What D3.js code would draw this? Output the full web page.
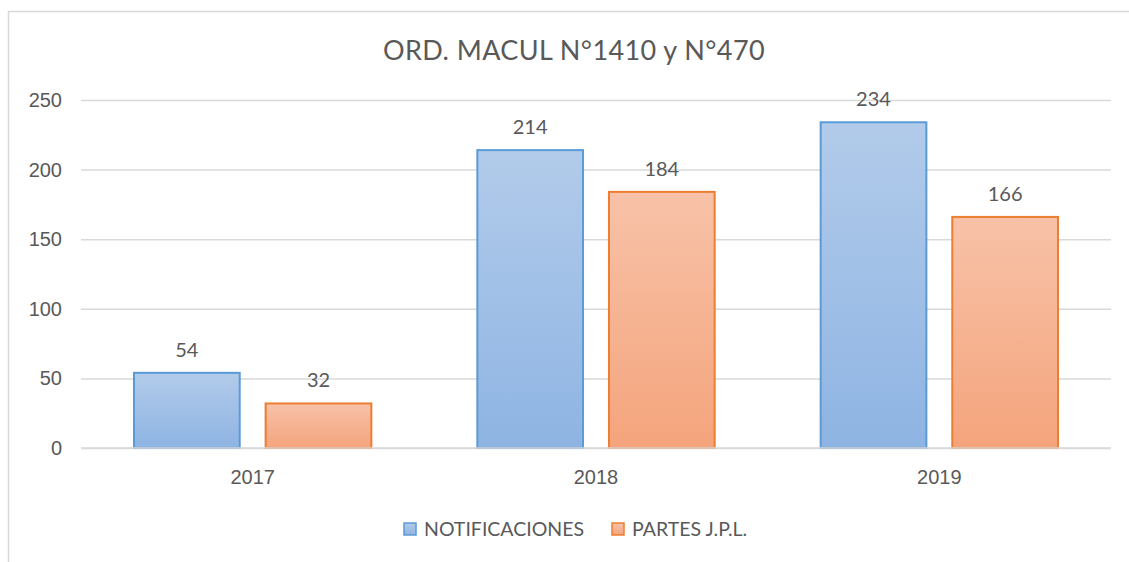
<!DOCTYPE html>
<html>
<head>
<meta charset="utf-8">
<script src="https://cdn.jsdelivr.net/npm/d3@7"></script>
<style>
  body { margin: 0; background: #fff; }
  svg { display: block; font-family: Lato, "Open Sans", sans-serif; }
  .tick text { fill: #595959; font-size: 20px; }
</style>
</head>
<body>
<svg id="chart" width="1129" height="562"></svg>
<script>
/* chart values */
const years = ["2017", "2018", "2019"];
const seriesNames = ["NOTIFICACIONES", "PARTES J.P.L."];
const notificaciones = [54, 214, 234];
const partes = [32, 184, 166];
const yTicks = [0, 50, 100, 150, 200, 250];

const colors = [
  { id: "gBlue", top: "#b2cbea", bottom: "#8eb4e3", stroke: "#5b9bd5" },
  { id: "gOrange", top: "#f8c2a8", bottom: "#f4a47c", stroke: "#ed7d31" }
];

const svg = d3.select("#chart");
const plotL = 81, plotR = 1111, plotT = 100, plotB = 448;

/* chart frame */
svg.append("rect")
  .attr("x", 8.5).attr("y", 11.5)
  .attr("width", 1140).attr("height", 580)
  .attr("fill", "#fff").attr("stroke", "#d9d9d9").attr("stroke-width", 1.5);

const defs = svg.append("defs");
colors.forEach(c => {
  const g = defs.append("linearGradient")
    .attr("id", c.id).attr("x1", 0).attr("y1", 0).attr("x2", 0).attr("y2", 1);
  g.append("stop").attr("offset", "0%").attr("stop-color", c.top);
  g.append("stop").attr("offset", "100%").attr("stop-color", c.bottom);
});

const x = d3.scaleBand().domain(years).range([plotL, plotR]).paddingInner(0).paddingOuter(0);
const xs = d3.scaleBand().domain([0, 1]).range([53, x.bandwidth() - 53]).paddingInner(0.197);
const y = d3.scaleLinear().domain([0, 250]).range([plotB, plotT]);

/* gridlines + y labels */
const yAxis = svg.append("g")
  .attr("transform", `translate(${plotL},0)`)
  .call(d3.axisLeft(y).tickValues(yTicks).tickSize(-(plotR - plotL)).tickPadding(19));
yAxis.select(".domain").remove();
yAxis.selectAll(".tick line").attr("stroke", "#d9d9d9").attr("stroke-width", 1.5);

/* x labels */
const xAxis = svg.append("g")
  .attr("transform", `translate(0,${plotB})`)
  .call(d3.axisBottom(x).tickSize(0).tickPadding(22));
xAxis.select(".domain").remove();

/* bars */
const series = [notificaciones, partes];
series.forEach((vals, si) => {
  const c = colors[si];
  const g = svg.append("g");
  g.selectAll("rect")
    .data(vals)
    .join("rect")
    .attr("x", (d, i) => x(years[i]) + xs(si))
    .attr("y", d => y(d))
    .attr("width", xs.bandwidth())
    .attr("height", d => plotB - y(d))
    .attr("fill", `url(#${c.id})`)
    .attr("stroke", c.stroke)
    .attr("stroke-width", 2);
  g.selectAll("text")
    .data(vals)
    .join("text")
    .attr("x", (d, i) => x(years[i]) + xs(si) + xs.bandwidth() / 2)
    .attr("y", d => y(d) - 16)
    .attr("text-anchor", "middle")
    .attr("fill", "#595959")
    .attr("font-size", 20)
    .text(d => d);
});

/* redraw baseline above bars */
svg.append("line")
  .attr("x1", plotL).attr("x2", plotR)
  .attr("y1", plotB).attr("y2", plotB)
  .attr("stroke", "#d9d9d9").attr("stroke-width", 1.5);

/* title */
svg.append("text")
  .attr("x", 574).attr("y", 60)
  .attr("text-anchor", "middle")
  .attr("fill", "#595959")
  .attr("font-size", 27)
  .attr("letter-spacing", 0.4)
  .text("ORD. MACUL N°1410 y N°470");

/* legend */
const legendX = [404, 612];
seriesNames.forEach((name, i) => {
  const c = colors[i];
  svg.append("rect")
    .attr("x", legendX[i]).attr("y", 523)
    .attr("width", 12).attr("height", 12)
    .attr("fill", `url(#${c.id})`)
    .attr("stroke", c.stroke).attr("stroke-width", 1.5);
  svg.append("text")
    .attr("x", legendX[i] + 20).attr("y", 536)
    .attr("fill", "#595959")
    .attr("font-size", 19.5)
    .text(name);
});
</script>
</body>
</html>
